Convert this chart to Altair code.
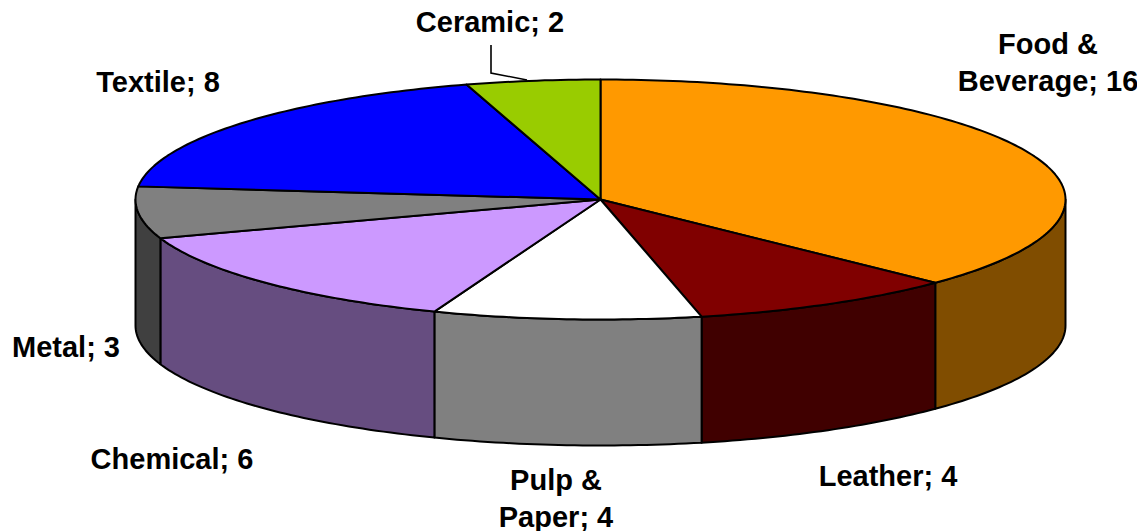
import math
import altair as alt

categories = ["Food & Beverage", "Leather", "Pulp & Paper", "Chemical", "Metal", "Textile", "Ceramic"]
values = [16, 4, 4, 6, 3, 8, 2]
top_colors = ["#FF9900", "#800000", "#FFFFFF", "#CC99FF", "#808080", "#0000FF", "#99CC00"]
side_colors = ["#804D00", "#400000", "#808080", "#664D80", "#404040", "#000080", "#4D6600"]
label_lines = ["Food &\nBeverage; 16", "Leather; 4", "Pulp &\nPaper; 4", "Chemical; 6", "Metal; 3", "Textile; 8", "Ceramic; 2"]

# layout of the tilted pie, in page pixels
CX, CY, RX, RY, DEPTH = 600.5, 199.5, 465, 120, 126
PAGE = 8
label_pos = [(1048, 45), (888, 477), (556, 481), (172, 460), (66, 348), (158, 83), (490, 23)]
leader = [(491, 45), (491, 73), (527, 80)]


def rim(deg, drop=0.0):
    t = math.radians(deg)
    return [RX * math.sin(t), -RY * math.cos(t) + drop]


def arc(a, b, drop=0.0, step=1.0):
    n = max(2, int(abs(b - a) / step) + 1)
    return [rim(a + (b - a) * i / n, drop) for i in range(n + 1)]


def feature(ring, fill, name):
    return {
        "type": "Feature",
        "properties": {"fill": fill, "name": name},
        "geometry": {"type": "Polygon", "coordinates": [ring + [ring[0]]]},
    }


total = sum(values)
tops, sides = [], []
start = 0.0
for name, v, ct, cs in zip(categories, values, top_colors, side_colors):
    end = start + 360.0 * v / total
    tops.append(feature([[0, 0]] + arc(start, end), ct, name))
    a, b = max(start, 90.0), min(end, 270.0)
    if a < b:
        sides.append(feature(arc(a, b) + arc(b, a, DEPTH), cs, name))
    start = end

projection = dict(type="identity", scale=1, translate=[CX - PAGE, CY - PAGE])
fill = alt.Color("properties.fill:N", scale=None, legend=None)

side_layer = alt.Chart(alt.Data(values=sides)).mark_geoshape(
    stroke="#000000", strokeWidth=2, strokeJoin="round"
).encode(fill=fill).project(**projection)

top_layer = alt.Chart(alt.Data(values=tops)).mark_geoshape(
    stroke="#000000", strokeWidth=2, strokeJoin="round"
).encode(fill=fill).project(**projection)

leader_layer = alt.Chart(alt.Data(values=[{
    "type": "Feature",
    "properties": {"name": "Ceramic leader"},
    "geometry": {"type": "LineString", "coordinates": [[x - CX, y - CY] for x, y in leader]},
}])).mark_geoshape(filled=False, stroke="#000000", strokeWidth=1.6).project(**projection)

labels = [
    {"lon": x - CX, "lat": y - CY, "label": t}
    for (x, y), t in zip(label_pos, label_lines)
]
text_layer = alt.Chart(alt.Data(values=labels)).mark_text(
    font="Liberation Sans", fontWeight="bold", fontSize=29, color="#000000",
    align="center", baseline="middle", lineBreak="\n", lineHeight=37,
).encode(longitude="lon:Q", latitude="lat:Q", text="label:N").project(**projection)

chart = (
    alt.layer(side_layer, top_layer, leader_layer, text_layer)
    .properties(width=1129, height=523, padding=0, background="#FFFFFF", autosize=alt.AutoSizeParams(type="none"))
    .configure_view(stroke=None)
)

chart.save("out.html", embed_options={"renderer": "svg", "actions": False})
